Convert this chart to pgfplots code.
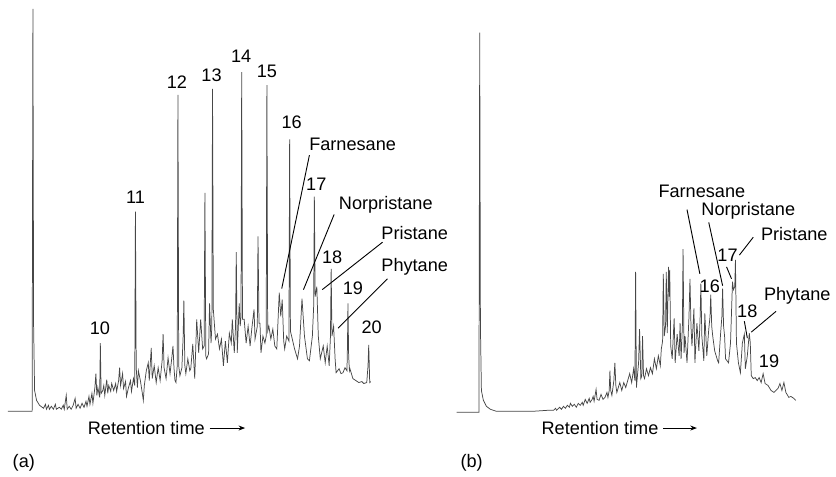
\documentclass[border=0pt]{standalone}
\usepackage{pgfplots}
\pgfplotsset{compat=1.18}
\usepackage{fontspec}
\setmainfont{Liberation Sans}
\usetikzlibrary{arrows.meta}
\begin{document}
\begin{tikzpicture}
\begin{axis}[
  x=0.6pt, y=0.6pt,
  xmin=0, xmax=836, ymin=0, ymax=479,
  y dir=reverse,
  axis line style={draw=none},
  ticks=none,
  clip=false,
  every node/.style={inner sep=0pt},
  font=\fontsize{11}{13}\selectfont,
]
% ---------- panel (a) trace ----------
\addplot[black!72, line width=0.45pt] coordinates {
(8,416) (32.5,416) (33.3,9) (34,330) (35,395) (37,405) (40,410) (44,413)
(46,409) (47,414) (49,410) (50,414) (52,411) (54,414) (56,409) (57,414) (60,412) (62,414) (64,410) (65,414) (67,400) (68,414) (70,411) (72,414) (74,410) (76,403) (77,413) (79,409) (81,413) (83,408) (85,412) (87,406) (88,411) (90,401) (91,409) (93,398) (94,408) (96,392) (97,378) (98,400) (99,392) (100.8,402) (101.5,347) (102.3,398) (104,395) (105,390) (106,400) (108,384) (109,398) (110,390) (112,396) (113,388) (115,395) (117,388) (118,396) (120,385) (121,372) (122,390) (124,378) (125,393) (127,386) (128,401) (130,392) (132,385) (133,396) (135,383) (136.3,390) (137,214) (137.8,372) (139,392) (140,375) (142,385) (144,398) (145,405) (146,390) (148,375) (150,367) (151,385) (153,352) (154,383) (156,370) (158,387) (160,372) (162,385) (164,365) (165,338) (166,372) (168,383) (170,362) (172,378) (174,360) (175,350) (176,372) (177,385) (178,387) (179.3,370) (180,96) (180.8,370) (182,380) (184,372) (185.3,340) (186,304) (187,370) (188,378) (190,363) (192,375) (193,373) (195,348) (197,383) (199,323) (201,357) (203,323) (205,353) (206.5,350) (207.3,195) (208.2,360) (209,363) (211,358) (212,307) (213.5,347) (214.3,330) (215,90) (215.8,313) (218,343) (220,338) (222,353) (224,343) (226,370) (228,345) (230,367) (232,337) (234,347) (235,323) (237,357) (238.3,330) (239,255) (240,357) (242,307) (243,330) (243.8,320) (244.5,73) (245.3,323) (247,323) (249,347) (251,330) (253,350) (255,330) (257,313) (258,343) (260.3,330) (261,239) (262,327) (263,327) (264,357) (266,340) (268,347) (269.3,340) (270,86) (270.8,335) (272,330) (274,343) (276,333) (278,350) (280,353) (282.5,296) (284,320) (285.5,303) (287,345) (288,353) (290,340) (292.3,345) (293,141) (293.8,335) (295,340) (298,353) (301,363) (303,350) (305.5,302) (308,340) (311,363) (313,365) (316,340) (317.3,310) (318,199) (318.8,300) (320.5,290) (322,340) (324,363) (327,350) (329,367) (331,350) (333,370) (334.3,340) (335,272) (335.8,340) (337.5,330) (339,363) (340,377) (343,373) (345,378) (347,377) (349,372) (351,375) (351.5,350) (352,307) (352.7,360) (353.5,375) (354,373) (357,383) (360,385) (363,387) (366,386) (368,388) (371,387) (372.3,370) (373,349) (373.7,375) (374,387) (375,386)
};
% ---------- panel (b) trace ----------
\addplot[black!72, line width=0.45pt] coordinates {
(462,417) (484.5,417) (485.3,33) (486,330) (487,395) (489,405) (492,411) (496,414) (502,416) (520,416) (540,416) (555,415) (560,415) (562,413) (563,415) (566,412) (568,414) (570,411) (572,413) (574,410) (576,412) (577,408) (579,411) (581,409) (583,412) (585,408) (587,410) (589,407) (590,410) (592,404) (594,408) (596,403) (597,407) (599,404) (600,401) (601,406) (603,394) (604,404) (606,405) (608,399) (610,404) (612,402) (614,397) (615,402) (616.3,395) (617,375) (617.8,395) (619,400) (621,385) (622,367) (623,390) (624,397) (627,387) (629,395) (631,387) (633,392) (635,385) (637,378) (639,387) (641,373) (642.3,385) (643,275) (643.8,392) (646,367) (647,333) (648.3,383) (649.3,380) (650,340) (651,380) (652,383) (654,373) (656,380) (658,372) (660,378) (662,363) (664,373) (666,360) (668,370) (669,353) (670.3,345) (671,277) (672,340) (673.3,330) (674,275) (675,337) (676.3,270) (677,300) (677.5,273) (678.5,350) (680,363) (682,322) (683,367) (685,338) (687,360) (688,327) (689,363) (690.3,330) (691,252) (692,357) (693,340) (695,367) (697,320) (698,282) (699,330) (700,350) (702,312) (703,367) (705,327) (707,355) (708.3,320) (709,287) (710,340) (712,365) (713,317) (715,360) (717,333) (718.3,320) (719,298) (720,330) (721,340) (723,355) (726,365) (727,367) (729,337) (730.3,320) (731,292) (732,330) (733,340) (734,363) (737,367) (739,347) (741,285) (742,293) (743.3,290) (744,263) (745,347) (747,367) (749,377) (751,347) (753,338) (754,373) (756,360) (758,337) (759,347) (760,380) (762,383) (764,382) (766,385) (768,382) (770,387) (772,378) (774,388) (777,390) (780,395) (783,397) (785,395) (787,393) (789,388) (791,395) (793,387) (795,397) (798,402) (800,401) (803,403) (805,405)
};
% ---------- labels (a) ----------
\node at (axis cs:101,332) {10};
\node at (axis cs:137,200) {11};
\node at (axis cs:179,83) {12};
\node at (axis cs:214,76) {13};
\node at (axis cs:244,57) {14};
\node at (axis cs:270,72) {15};
\node at (axis cs:295,124) {16};
\node at (axis cs:320,186) {17};
\node at (axis cs:336,260) {18};
\node at (axis cs:357,292) {19};
\node at (axis cs:376,331) {20};
\node[anchor=west] at (axis cs:307,146) {Farnesane};
\node[anchor=west] at (axis cs:337,207) {Norpristane};
\node[anchor=west] at (axis cs:380,236) {Pristane};
\node[anchor=west] at (axis cs:380,270) {Phytane};
\draw[black, line width=0.55pt] (axis cs:313,157) -- (axis cs:285,292);
\draw[black, line width=0.55pt] (axis cs:338,217) -- (axis cs:307,293);
\draw[black, line width=0.55pt] (axis cs:387,245) -- (axis cs:326,293);
\draw[black, line width=0.55pt] (axis cs:392,282) -- (axis cs:342,332);
% ---------- labels (b) ----------
\node at (axis cs:710,194) {Farnesane};
\node at (axis cs:757,213) {Norpristane};
\node[anchor=west] at (axis cs:764,237) {Pristane};
\node at (axis cs:736,258) {17};
\node at (axis cs:718,290) {16};
\node at (axis cs:756,315) {18};
\node[anchor=west] at (axis cs:767,299) {Phytane};
\node at (axis cs:778,365) {19};
\draw[black, line width=0.55pt] (axis cs:695,212) -- (axis cs:708,277);
\draw[black, line width=0.55pt] (axis cs:717,225) -- (axis cs:731,289);
\draw[black, line width=0.55pt] (axis cs:735,270) -- (axis cs:740,282);
\draw[black, line width=0.55pt] (axis cs:762,240) -- (axis cs:748,258);
\draw[black, line width=0.55pt] (axis cs:753,325) -- (axis cs:756,342);
\draw[black, line width=0.55pt] (axis cs:785,315) -- (axis cs:760,336);
% ---------- bottom ----------
\node[anchor=west] at (axis cs:83,433) {Retention time};
\draw[black, line width=0.55pt, -{Stealth[length=4pt,width=3pt]}] (axis cs:212,433) -- (axis cs:248,433);
\node[anchor=west] at (axis cs:542,433) {Retention time};
\draw[black, line width=0.55pt, -{Stealth[length=4pt,width=3pt]}] (axis cs:671,433) -- (axis cs:705,433);
\node[anchor=west] at (axis cs:7,468) {(a)};
\node[anchor=west] at (axis cs:460,468) {(b)};
\end{axis}
\end{tikzpicture}
\end{document}
